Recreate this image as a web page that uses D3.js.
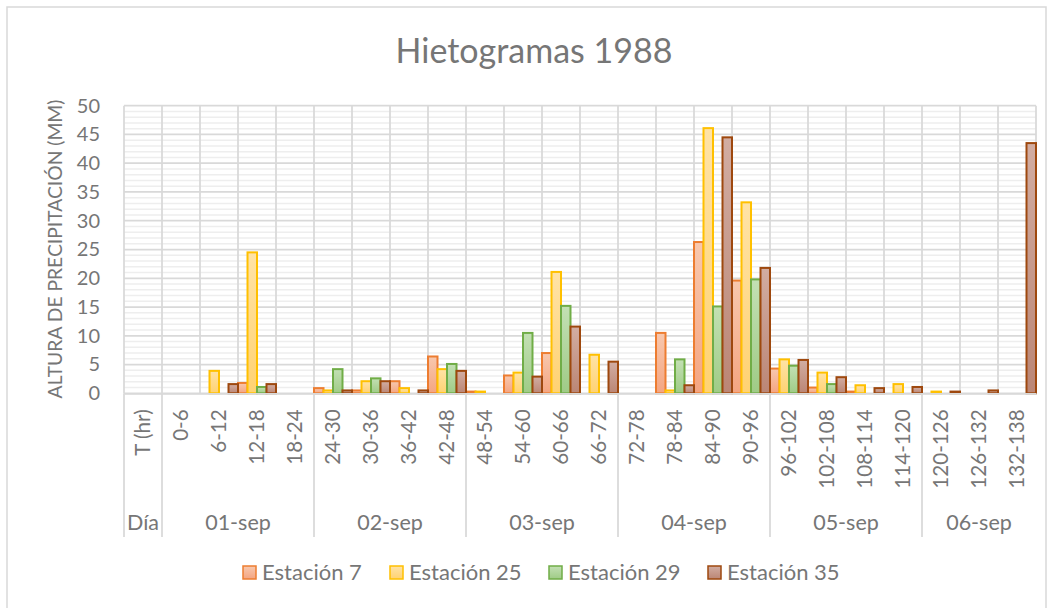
<!DOCTYPE html>
<html>
<head>
<meta charset="utf-8">
<script src="https://cdn.jsdelivr.net/npm/d3@7"></script>
<style>
  html, body { margin: 0; padding: 0; background: #fff; }
  svg { display: block; font-family: Lato, "Open Sans", sans-serif; }
</style>
</head>
<body>
<svg id="chart" width="1055" height="608"></svg>
<script>
// ---------- data ----------
const categories = ["T (hr)","0-6","6-12","12-18","18-24","24-30","30-36","36-42","42-48",
  "48-54","54-60","60-66","66-72","72-78","78-84","84-90","90-96",
  "96-102","102-108","108-114","114-120","120-126","126-132","132-138"];
const dayLabels = ["Día","01-sep","02-sep","03-sep","04-sep","05-sep","06-sep"];
const daySpans  = [1, 4, 4, 4, 4, 4, 3];
const seriesNames = ["Estación 7","Estación 25","Estación 29","Estación 35"];
const est7  = [null,0,0,1.8,0, 0.9,0.5,2.1,6.4, 0.3,3.1,7.0,0, 0,10.5,26.3,19.6, 4.3,1.0,0.3,0, 0,0,0];
const est25 = [null,0,3.9,24.5,0, 0.5,2.1,0.9,4.2, 0.3,3.6,21.1,6.7, 0,0.5,46.1,33.2, 5.9,3.6,1.4,1.6, 0.3,0,0];
const est29 = [null,0,0,1.1,0, 4.2,2.6,0,5.1, 0,10.5,15.2,0, 0,5.9,15.1,19.8, 4.8,1.6,0,0, 0,0,0];
const est35 = [null,0,1.6,1.6,0, 0.5,2.1,0.5,3.9, 0,2.9,11.6,5.5, 0,1.4,44.5,21.8, 5.8,2.8,0.9,1.1, 0.3,0.5,43.5];
const yTicks = [0,5,10,15,20,25,30,35,40,45,50];

// ---------- styles ----------
const strokeCols = ["#ed7d31","#ffc000","#70ad47","#9e480e"];
const gradTop    = ["#f8c8ae","#ffe3a6","#c3e0b4","#d2ada2"];
const gradBot    = ["#f4a581","#ffd272","#9fcb86","#bb8675"];
const textCol = "#767676";
const allSeries = [est7, est25, est29, est35];

const svg = d3.select("#chart");
const defs = svg.append("defs");
seriesNames.forEach((s, i) => {
  const g = defs.append("linearGradient").attr("id", "g" + i)
    .attr("x1", 0).attr("y1", 0).attr("x2", 0).attr("y2", 1);
  g.append("stop").attr("offset", "0%").attr("stop-color", gradTop[i]);
  g.append("stop").attr("offset", "100%").attr("stop-color", gradBot[i]);
});

// chart border
svg.append("rect").attr("x", 7).attr("y", 7).attr("width", 1039).attr("height", 620)
  .attr("fill", "#fff").attr("stroke", "#d9d9d9").attr("stroke-width", 1.5);

// scales
const plotL = 124, plotR = 1036, plotT = 105.7, plotB = 393.3;
const x = d3.scaleBand().domain(categories).range([plotL, plotR]).padding(0);
const xi = d3.scaleBand().domain(seriesNames).range([0, x.bandwidth()]).padding(0);
const y = d3.scaleLinear().domain([0, 50]).range([plotB, plotT]);

// title
svg.append("text").attr("x", 534).attr("y", 63).attr("text-anchor", "middle")
  .attr("font-size", 34).attr("fill", textCol).text("Hietogramas 1988");

// minor gridlines
const minor = d3.range(0, 51, 1).filter(v => v % 5 !== 0);
svg.append("g").selectAll("line").data(minor).join("line")
  .attr("x1", plotL).attr("x2", plotR)
  .attr("y1", d => y(d)).attr("y2", d => y(d))
  .attr("stroke", "#eeeeee").attr("stroke-width", 1.5);
// major gridlines
svg.append("g").selectAll("line").data(yTicks).join("line")
  .attr("x1", plotL).attr("x2", plotR)
  .attr("y1", d => y(d)).attr("y2", d => y(d))
  .attr("stroke", "#d9d9d9").attr("stroke-width", 1.75);
// vertical gridlines
const vlines = categories.map(c => x(c)).concat([plotR]);
svg.append("g").selectAll("line").data(vlines).join("line")
  .attr("x1", d => d).attr("x2", d => d)
  .attr("y1", plotT).attr("y2", plotB)
  .attr("stroke", "#d9d9d9").attr("stroke-width", 1.75);

// bars
seriesNames.forEach((s, si) => {
  const data = categories.map((c, ci) => ({ c, v: allSeries[si][ci] }))
    .filter(d => d.v != null && d.v > 0);
  svg.append("g").selectAll("rect").data(data).join("rect")
    .attr("x", d => x(d.c) + xi(s))
    .attr("y", d => y(d.v))
    .attr("width", xi.bandwidth())
    .attr("height", d => y(0) - y(d.v))
    .attr("fill", `url(#g${si})`)
    .attr("stroke", strokeCols[si]).attr("stroke-width", 2);
});

// y axis
const yAxis = svg.append("g").attr("transform", `translate(${plotL},0)`)
  .call(d3.axisLeft(y).tickValues(yTicks).tickSize(0).tickPadding(24));
yAxis.select(".domain").remove();
yAxis.selectAll("text").attr("font-size", 20).attr("fill", textCol)
  .attr("font-family", "Lato, sans-serif");

// y axis title
svg.append("text")
  .attr("transform", "translate(62,249) rotate(-90)")
  .attr("text-anchor", "middle").attr("font-size", 19.3).attr("fill", textCol)
  .text("ALTURA DE PRECIPITACIÓN (MM)");

// x axis (inner level)
const xAxis = svg.append("g").attr("transform", `translate(0,${plotB})`)
  .call(d3.axisBottom(x).tickSize(0));
xAxis.select(".domain").attr("stroke", "#d9d9d9").attr("stroke-width", 1.75);
xAxis.selectAll("text")
  .attr("transform", "rotate(-90)")
  .attr("x", -16).attr("y", 0).attr("dy", "0.36em")
  .attr("text-anchor", "end")
  .attr("font-size", 20.6).attr("fill", textCol)
  .attr("font-family", "Lato, sans-serif");

// outer level (days)
let start = 0;
const groups = dayLabels.map((d, i) => {
  const g = { label: d, first: categories[start], last: categories[start + daySpans[i] - 1] };
  start += daySpans[i];
  return g;
});
svg.append("g").selectAll("line").data(groups).join("line")
  .attr("x1", d => x(d.first)).attr("x2", d => x(d.first))
  .attr("y1", plotB).attr("y2", 537)
  .attr("stroke", "#d9d9d9").attr("stroke-width", 1.75);
svg.append("g").selectAll("text").data(groups).join("text")
  .attr("x", d => (x(d.first) + x(d.last) + x.bandwidth()) / 2)
  .attr("y", 530).attr("text-anchor", "middle")
  .attr("font-size", 21.5).attr("fill", textCol)
  .text(d => d.label);

// legend
const legX = [243, 390, 549, 708];
const leg = svg.append("g");
seriesNames.forEach((s, i) => {
  leg.append("rect").attr("x", legX[i]).attr("y", 566).attr("width", 13).attr("height", 13)
    .attr("fill", `url(#g${i})`).attr("stroke", strokeCols[i]).attr("stroke-width", 1.5);
  leg.append("text").attr("x", legX[i] + 19).attr("y", 580)
    .attr("font-size", 22).attr("fill", textCol).text(s);
});
</script>
</body>
</html>
